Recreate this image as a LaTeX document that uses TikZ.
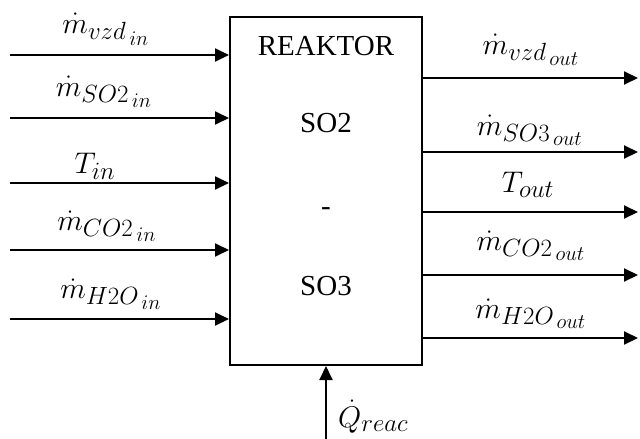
\documentclass[tikz,border=0pt]{standalone}
\usepackage{fontspec}
\setmainfont{Liberation Serif}
\usetikzlibrary{arrows.meta}
\DeclareMathSizes{25}{25}{21}{18}
\newcommand{\biglbl}[1]{\scalebox{1.2}{$#1$}}
\begin{document}
\begin{tikzpicture}[x=1pt,y=-1pt,
  arr/.style={line width=2pt,-{Triangle[length=14pt,width=13pt]}},
  lbl/.style={inner sep=0pt,anchor=base,font=\fontsize{25}{30}\selectfont},
  boxtxt/.style={inner sep=0pt,anchor=base,font=\fontsize{29}{34}\selectfont}]
\useasboundingbox (0,0) rectangle (640,439);
\node[draw,line width=2pt,minimum width=192pt,minimum height=348pt,inner sep=0pt] (reactor) at (326,191) {};
\node[boxtxt] (t1) at (326,55) {REAKTOR};
\node[boxtxt] (t2) at (326,132) {SO2};
\node[boxtxt] (t3) at (326,215) {-};
\node[boxtxt] (t4) at (326,295) {SO3};
% inputs
\coordinate (i1) at (10,55);
\coordinate (i2) at (10,118);
\coordinate (i3) at (10,183);
\coordinate (i4) at (10,250);
\coordinate (i5) at (10,319);
\foreach \c in {i1,i2,i3,i4,i5} \draw[arr] (\c) -- (\c -| reactor.west);
\node[lbl] (li1) at (106,33) {\biglbl{\dot{m}_{vzd_{\,in}}}};
\node[lbl] (li2) at (104,96) {\biglbl{\dot{m}_{SO2_{\,in}}}};
\node[lbl] (li3) at (95,173) {\biglbl{T_{in}}};
\node[lbl] (li4) at (107,230) {\biglbl{\dot{m}_{CO2_{\,in}}}};
\node[lbl] (li5) at (111,298) {\biglbl{\dot{m}_{H2O_{\,in}}}};
% outputs
\coordinate (o1) at (638,78);
\coordinate (o2) at (638,152);
\coordinate (o3) at (638,212);
\coordinate (o4) at (638,275);
\coordinate (o5) at (638,338);
\foreach \c in {o1,o2,o3,o4,o5} \draw[arr] (\c -| reactor.east) -- (\c);
\node[lbl] (lo1) at (531,54) {\biglbl{\dot{m}_{vzd_{\,out}}}};
\node[lbl] (lo2) at (530,135) {\biglbl{\dot{m}_{SO3_{\,out}}}};
\node[lbl] (lo3) at (528,192) {\biglbl{T_{out}}};
\node[lbl] (lo4) at (531,250) {\biglbl{\dot{m}_{CO2_{\,out}}}};
\node[lbl] (lo5) at (531,318) {\biglbl{\dot{m}_{H2O_{\,out}}}};
% heat
\coordinate (q) at (326,439);
\draw[arr] (q) -- (q |- reactor.south);
\node[lbl,anchor=base west] (lq) at (338,427) {\biglbl{\dot{Q}_{reac}}};
\end{tikzpicture}
\end{document}
